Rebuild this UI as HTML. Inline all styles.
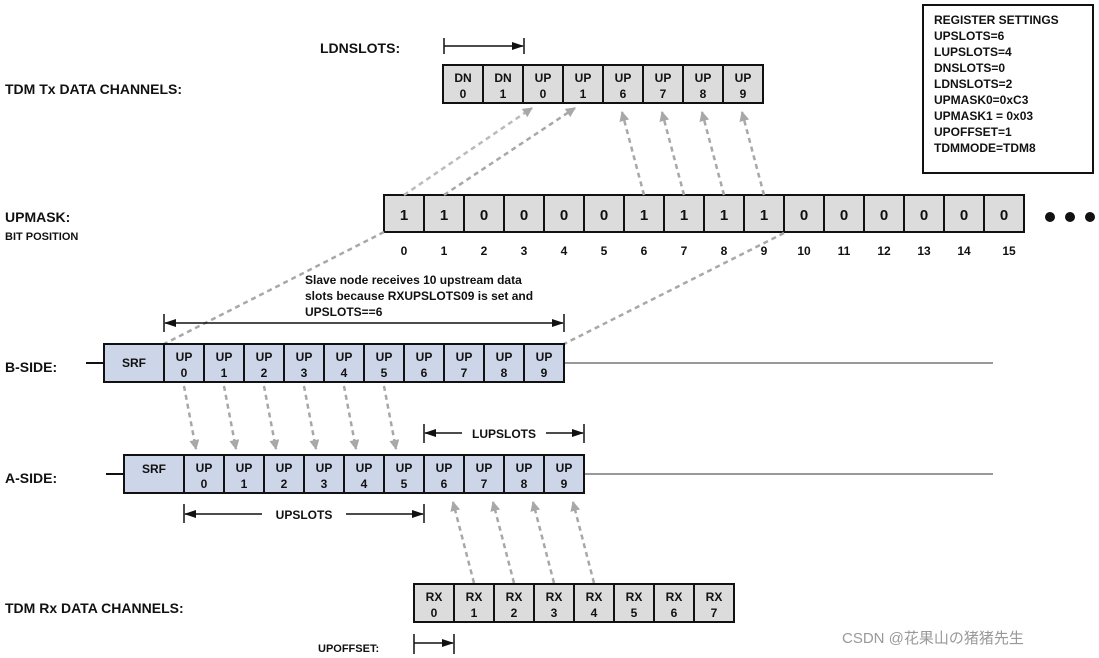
<!DOCTYPE html>
<html><head><meta charset="utf-8"><style>
html,body{margin:0;padding:0;background:#fff}
svg{display:block}
text{font-family:"Liberation Sans",Arial,sans-serif;font-weight:bold;fill:#111}
.c{fill:#dcdcdc;stroke:#111;stroke-width:2}
.b{fill:#cdd5e8;stroke:#111;stroke-width:2}
.d{stroke:#a8a8a8;stroke-width:2.5;stroke-dasharray:5,4;fill:none}
.k{stroke:#111;stroke-width:1.5;fill:none}
.t{font-size:12px;text-anchor:middle}
</style></head><body>
<svg width="1099" height="658" viewBox="0 0 1099 658" xmlns="http://www.w3.org/2000/svg">
<defs>
<marker id="g" markerWidth="10" markerHeight="10" refX="9" refY="5" orient="auto" markerUnits="userSpaceOnUse" viewBox="0 0 10 10"><path d="M0,0 L10,5 L0,10 Z" fill="#a8a8a8"/></marker>
<marker id="a" markerWidth="12" markerHeight="10" refX="11" refY="5" orient="auto" markerUnits="userSpaceOnUse" viewBox="0 0 12 10"><path d="M0,1 L12,5 L0,9 Z" fill="#111"/></marker>
<marker id="as" markerWidth="12" markerHeight="10" refX="1" refY="5" orient="auto" markerUnits="userSpaceOnUse" viewBox="0 0 12 10"><path d="M12,1 L0,5 L12,9 Z" fill="#111"/></marker>
</defs>

<!-- labels -->
<text x="320" y="53" font-size="14">LDNSLOTS:</text>
<text x="5" y="94" font-size="14">TDM Tx DATA CHANNELS:</text>
<text x="5" y="222" font-size="14">UPMASK:</text>
<text x="5" y="240" font-size="11">BIT POSITION</text>
<text x="5" y="372" font-size="14">B-SIDE:</text>
<text x="5" y="483" font-size="14">A-SIDE:</text>
<text x="5" y="613" font-size="14">TDM Rx DATA CHANNELS:</text>
<text x="318" y="652" font-size="11">UPOFFSET:</text>

<!-- register box -->
<rect x="923" y="5" width="170" height="168" fill="#fff" stroke="#111" stroke-width="2"/>
<g font-size="12">
<text x="934" y="24">REGISTER SETTINGS</text>
<text x="934" y="40">UPSLOTS=6</text>
<text x="934" y="56">LUPSLOTS=4</text>
<text x="934" y="72">DNSLOTS=0</text>
<text x="934" y="88">LDNSLOTS=2</text>
<text x="934" y="104">UPMASK0=0xC3</text>
<text x="934" y="120">UPMASK1 = 0x03</text>
<text x="934" y="136">UPOFFSET=1</text>
<text x="934" y="152">TDMMODE=TDM8</text>
</g>

<!-- LDNSLOTS bracket -->
<line x1="444" y1="38" x2="444" y2="54" class="k"/>
<line x1="524" y1="38" x2="524" y2="54" class="k"/>
<line x1="444" y1="46" x2="523" y2="46" class="k" marker-end="url(#a)"/>

<!-- Tx cells -->
<g>
<rect class="c" x="443" y="65" width="40" height="38"/><rect class="c" x="483" y="65" width="40" height="38"/>
<rect class="c" x="523" y="65" width="40" height="38"/><rect class="c" x="563" y="65" width="40" height="38"/>
<rect class="c" x="603" y="65" width="40" height="38"/><rect class="c" x="643" y="65" width="40" height="38"/>
<rect class="c" x="683" y="65" width="40" height="38"/><rect class="c" x="723" y="65" width="40" height="38"/>
</g>
<g class="t">
<text x="463" y="82">DN</text><text x="463" y="98">0</text>
<text x="503" y="82">DN</text><text x="503" y="98">1</text>
<text x="543" y="82">UP</text><text x="543" y="98">0</text>
<text x="583" y="82">UP</text><text x="583" y="98">1</text>
<text x="623" y="82">UP</text><text x="623" y="98">6</text>
<text x="663" y="82">UP</text><text x="663" y="98">7</text>
<text x="703" y="82">UP</text><text x="703" y="98">8</text>
<text x="743" y="82">UP</text><text x="743" y="98">9</text>
</g>

<!-- UPMASK cells -->
<g>
<rect class="c" x="384" y="195" width="40" height="37"/><rect class="c" x="424" y="195" width="40" height="37"/>
<rect class="c" x="464" y="195" width="40" height="37"/><rect class="c" x="504" y="195" width="40" height="37"/>
<rect class="c" x="544" y="195" width="40" height="37"/><rect class="c" x="584" y="195" width="40" height="37"/>
<rect class="c" x="624" y="195" width="40" height="37"/><rect class="c" x="664" y="195" width="40" height="37"/>
<rect class="c" x="704" y="195" width="40" height="37"/><rect class="c" x="744" y="195" width="40" height="37"/>
<rect class="c" x="784" y="195" width="40" height="37"/><rect class="c" x="824" y="195" width="40" height="37"/>
<rect class="c" x="864" y="195" width="40" height="37"/><rect class="c" x="904" y="195" width="40" height="37"/>
<rect class="c" x="944" y="195" width="40" height="37"/><rect class="c" x="984" y="195" width="40" height="37"/>
</g>
<g font-size="15" text-anchor="middle">
<text x="404" y="220">1</text><text x="444" y="220">1</text><text x="484" y="220">0</text><text x="524" y="220">0</text>
<text x="564" y="220">0</text><text x="604" y="220">0</text><text x="644" y="220">1</text><text x="684" y="220">1</text>
<text x="724" y="220">1</text><text x="764" y="220">1</text><text x="804" y="220">0</text><text x="844" y="220">0</text>
<text x="884" y="220">0</text><text x="924" y="220">0</text><text x="964" y="220">0</text><text x="1004" y="220">0</text>
</g>
<g class="t">
<text x="404" y="255">0</text><text x="444" y="255">1</text><text x="484" y="255">2</text><text x="524" y="255">3</text>
<text x="564" y="255">4</text><text x="604" y="255">5</text><text x="644" y="255">6</text><text x="684" y="255">7</text>
<text x="724" y="255">8</text><text x="764" y="255">9</text><text x="804" y="255">10</text><text x="844" y="255">11</text>
<text x="884" y="255">12</text><text x="924" y="255">13</text><text x="964" y="255">14</text><text x="1009" y="255">15</text>
</g>
<circle cx="1050" cy="217" r="5" fill="#111"/><circle cx="1070" cy="217" r="5" fill="#111"/><circle cx="1090" cy="217" r="5" fill="#111"/>

<!-- dashed arrows UPMASK -> Tx -->
<line class="d" x1="404" y1="195" x2="532" y2="108" marker-end="url(#g)" style="stroke:#bbb"/>
<line class="d" x1="444" y1="195" x2="575" y2="108" marker-end="url(#g)"/>
<line class="d" x1="644" y1="195" x2="622" y2="112" marker-end="url(#g)"/>
<line class="d" x1="684" y1="195" x2="662" y2="112" marker-end="url(#g)"/>
<line class="d" x1="724" y1="195" x2="702" y2="112" marker-end="url(#g)"/>
<line class="d" x1="764" y1="195" x2="742" y2="112" marker-end="url(#g)"/>
<!-- UPMASK -> B-side -->
<line class="d" x1="384" y1="232" x2="164" y2="344"/>
<line class="d" x1="784" y1="233" x2="564" y2="344"/>

<!-- note -->
<g font-size="12">
<text x="305" y="284">Slave node receives 10 upstream data</text>
<text x="305" y="300">slots because RXUPSLOTS09 is set and</text>
<text x="305" y="316">UPSLOTS==6</text>
</g>
<line x1="164" y1="314" x2="164" y2="332" class="k"/>
<line x1="564" y1="314" x2="564" y2="332" class="k"/>
<line x1="165" y1="323" x2="563" y2="323" class="k" marker-start="url(#as)" marker-end="url(#a)"/>

<!-- B-side -->
<line x1="86" y1="363" x2="104" y2="363" stroke="#111" stroke-width="2"/>
<line x1="564" y1="363" x2="993" y2="363" stroke="#999" stroke-width="2"/>
<rect class="b" x="104" y="344" width="60" height="38"/>
<g>
<rect class="b" x="164" y="344" width="40" height="38"/><rect class="b" x="204" y="344" width="40" height="38"/>
<rect class="b" x="244" y="344" width="40" height="38"/><rect class="b" x="284" y="344" width="40" height="38"/>
<rect class="b" x="324" y="344" width="40" height="38"/><rect class="b" x="364" y="344" width="40" height="38"/>
<rect class="b" x="404" y="344" width="40" height="38"/><rect class="b" x="444" y="344" width="40" height="38"/>
<rect class="b" x="484" y="344" width="40" height="38"/><rect class="b" x="524" y="344" width="40" height="38"/>
</g>
<g class="t">
<text x="134" y="367">SRF</text>
<text x="184" y="361">UP</text><text x="184" y="377">0</text>
<text x="224" y="361">UP</text><text x="224" y="377">1</text>
<text x="264" y="361">UP</text><text x="264" y="377">2</text>
<text x="304" y="361">UP</text><text x="304" y="377">3</text>
<text x="344" y="361">UP</text><text x="344" y="377">4</text>
<text x="384" y="361">UP</text><text x="384" y="377">5</text>
<text x="424" y="361">UP</text><text x="424" y="377">6</text>
<text x="464" y="361">UP</text><text x="464" y="377">7</text>
<text x="504" y="361">UP</text><text x="504" y="377">8</text>
<text x="544" y="361">UP</text><text x="544" y="377">9</text>
</g>

<!-- B -> A arrows -->
<line class="d" x1="184" y1="386" x2="196" y2="449" marker-end="url(#g)"/>
<line class="d" x1="224" y1="386" x2="236" y2="449" marker-end="url(#g)"/>
<line class="d" x1="264" y1="386" x2="276" y2="449" marker-end="url(#g)"/>
<line class="d" x1="304" y1="386" x2="316" y2="449" marker-end="url(#g)"/>
<line class="d" x1="344" y1="386" x2="356" y2="449" marker-end="url(#g)"/>
<line class="d" x1="384" y1="386" x2="396" y2="449" marker-end="url(#g)"/>

<!-- LUPSLOTS -->
<line x1="424" y1="424" x2="424" y2="443" class="k"/>
<line x1="584" y1="424" x2="584" y2="443" class="k"/>
<line x1="425" y1="433" x2="462" y2="433" class="k" marker-start="url(#as)"/>
<line x1="546" y1="433" x2="583" y2="433" class="k" marker-end="url(#a)"/>
<text x="504" y="438" class="t">LUPSLOTS</text>

<!-- A-side -->
<line x1="106" y1="474" x2="124" y2="474" stroke="#111" stroke-width="2"/>
<line x1="584" y1="474" x2="993" y2="474" stroke="#999" stroke-width="2"/>
<rect class="b" x="124" y="455" width="60" height="38"/>
<g>
<rect class="b" x="184" y="455" width="40" height="38"/><rect class="b" x="224" y="455" width="40" height="38"/>
<rect class="b" x="264" y="455" width="40" height="38"/><rect class="b" x="304" y="455" width="40" height="38"/>
<rect class="b" x="344" y="455" width="40" height="38"/><rect class="b" x="384" y="455" width="40" height="38"/>
<rect class="b" x="424" y="455" width="40" height="38"/><rect class="b" x="464" y="455" width="40" height="38"/>
<rect class="b" x="504" y="455" width="40" height="38"/><rect class="b" x="544" y="455" width="40" height="38"/>
</g>
<g class="t">
<text x="154" y="473">SRF</text>
<text x="204" y="472">UP</text><text x="204" y="488">0</text>
<text x="244" y="472">UP</text><text x="244" y="488">1</text>
<text x="284" y="472">UP</text><text x="284" y="488">2</text>
<text x="324" y="472">UP</text><text x="324" y="488">3</text>
<text x="364" y="472">UP</text><text x="364" y="488">4</text>
<text x="404" y="472">UP</text><text x="404" y="488">5</text>
<text x="444" y="472">UP</text><text x="444" y="488">6</text>
<text x="484" y="472">UP</text><text x="484" y="488">7</text>
<text x="524" y="472">UP</text><text x="524" y="488">8</text>
<text x="564" y="472">UP</text><text x="564" y="488">9</text>
</g>

<!-- UPSLOTS -->
<line x1="184" y1="504" x2="184" y2="523" class="k"/>
<line x1="424" y1="504" x2="424" y2="523" class="k"/>
<line x1="185" y1="514" x2="262" y2="514" class="k" marker-start="url(#as)"/>
<line x1="346" y1="514" x2="423" y2="514" class="k" marker-end="url(#a)"/>
<text x="304" y="519" class="t">UPSLOTS</text>

<!-- Rx -> A arrows -->
<line class="d" x1="474" y1="583" x2="453" y2="502" marker-end="url(#g)"/>
<line class="d" x1="514" y1="583" x2="493" y2="502" marker-end="url(#g)"/>
<line class="d" x1="554" y1="583" x2="533" y2="502" marker-end="url(#g)"/>
<line class="d" x1="594" y1="583" x2="573" y2="502" marker-end="url(#g)"/>

<!-- Rx cells -->
<g>
<rect class="c" x="414" y="584" width="40" height="38"/><rect class="c" x="454" y="584" width="40" height="38"/>
<rect class="c" x="494" y="584" width="40" height="38"/><rect class="c" x="534" y="584" width="40" height="38"/>
<rect class="c" x="574" y="584" width="40" height="38"/><rect class="c" x="614" y="584" width="40" height="38"/>
<rect class="c" x="654" y="584" width="40" height="38"/><rect class="c" x="694" y="584" width="40" height="38"/>
</g>
<g class="t">
<text x="434" y="601">RX</text><text x="434" y="617">0</text>
<text x="474" y="601">RX</text><text x="474" y="617">1</text>
<text x="514" y="601">RX</text><text x="514" y="617">2</text>
<text x="554" y="601">RX</text><text x="554" y="617">3</text>
<text x="594" y="601">RX</text><text x="594" y="617">4</text>
<text x="634" y="601">RX</text><text x="634" y="617">5</text>
<text x="674" y="601">RX</text><text x="674" y="617">6</text>
<text x="714" y="601">RX</text><text x="714" y="617">7</text>
</g>

<!-- UPOFFSET bracket -->
<line x1="414" y1="634" x2="414" y2="654" class="k"/>
<line x1="454" y1="634" x2="454" y2="654" class="k"/>
<line x1="414" y1="643" x2="453" y2="643" class="k" marker-end="url(#a)"/>

<text x="842" y="643" font-size="15" style="font-weight:normal;fill:#999;font-family:'Liberation Sans','Noto Sans CJK SC',sans-serif">CSDN @花果山の猪猪先生</text>
</svg>
</body></html>
